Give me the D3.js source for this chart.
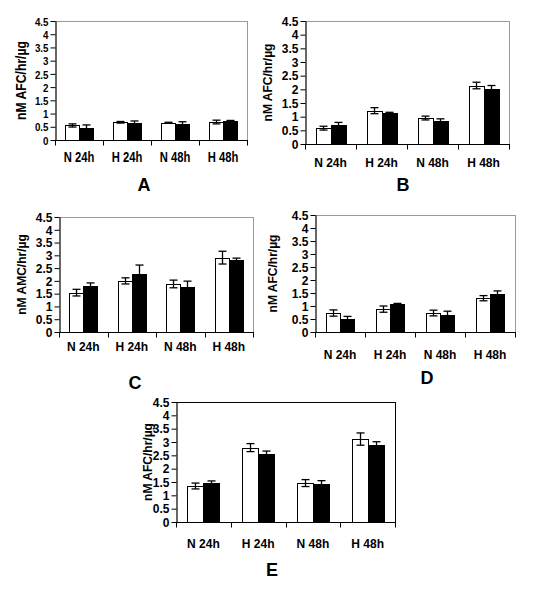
<!DOCTYPE html>
<html>
<head>
<meta charset="utf-8">
<script src="https://cdn.jsdelivr.net/npm/d3@7"></script>
<style>
  body { margin: 0; background: #fff; }
  svg { display: block; }
  text { font-family: "Liberation Sans", Arial, sans-serif; font-weight: bold; fill: #000; }
</style>
</head>
<body>
<svg id="chart" width="540" height="589"></svg>
<script>
// ---------- data ----------
const categories = ["N 24h", "H 24h", "N 48h", "H 48h"];
const yTicks = [0, 0.5, 1, 1.5, 2, 2.5, 3, 3.5, 4, 4.5];
const panelLetters = ["A", "B", "C", "D", "E"];
const yTitles = ["nM AFC/hr/µg", "nM AFC/hr/µg", "nM AMC/hr/µg", "nM AFC/hr/µg", "nM AFC/hr/µg"];

const whiteA = [0.55, 0.67, 0.65, 0.68];
const whiteErrA = [0.06, 0.03, 0.02, 0.07];
const blackA = [0.45, 0.64, 0.62, 0.72];
const blackErrA = [0.12, 0.08, 0.07, 0.02];

const whiteB = [0.58, 1.22, 0.95, 2.14];
const whiteErrB = [0.07, 0.11, 0.07, 0.12];
const blackB = [0.70, 1.14, 0.85, 2.02];
const blackErrB = [0.09, 0.02, 0.07, 0.12];

const whiteC = [1.54, 2.00, 1.88, 2.91];
const whiteErrC = [0.13, 0.12, 0.15, 0.25];
const blackC = [1.80, 2.27, 1.77, 2.83];
const blackErrC = [0.12, 0.35, 0.22, 0.06];

const whiteD = [0.73, 0.88, 0.73, 1.30];
const whiteErrD = [0.12, 0.12, 0.11, 0.10];
const blackD = [0.50, 1.07, 0.66, 1.46];
const blackErrD = [0.10, 0.03, 0.14, 0.12];

const whiteE = [1.35, 2.79, 1.46, 3.11];
const whiteErrE = [0.11, 0.15, 0.13, 0.23];
const blackE = [1.46, 2.56, 1.44, 2.90];
const blackErrE = [0.08, 0.10, 0.11, 0.11];

const whiteSeries = [whiteA, whiteB, whiteC, whiteD, whiteE];
const whiteErrs = [whiteErrA, whiteErrB, whiteErrC, whiteErrD, whiteErrE];
const blackSeries = [blackA, blackB, blackC, blackD, blackE];
const blackErrs = [blackErrA, blackErrB, blackErrC, blackErrD, blackErrE];

// ---------- layout ----------
const layouts = [
  { x0: 55,  x1: 247, yTop: 21,  y0: 140, titleX: 26,  catY: 162, letterX: 144, letterY: 191, frame: "#9a9a9a", narrow: true },
  { x0: 305, x1: 509, yTop: 21,  y0: 144, titleX: 272, catY: 167, letterX: 403, letterY: 191, frame: "#9a9a9a" },
  { x0: 59,  x1: 253, yTop: 217, y0: 332, titleX: 26,  catY: 351, letterX: 135, letterY: 389, frame: "#9a9a9a" },
  { x0: 315, x1: 515, yTop: 215, y0: 332, titleX: 277, catY: 359, letterX: 427, letterY: 384, frame: "#9a9a9a" },
  { x0: 176, x1: 395, yTop: 402, y0: 522, titleX: 152, catY: 548, letterX: 272, letterY: 576, frame: "#000" }
];

const svg = d3.select("#chart");

layouts.forEach((L, i) => {
  const g = svg.append("g");
  const sx = L.narrow ? 0.75 : 1;

  const x = d3.scaleBand().domain(categories).range([L.x0, L.x1]).paddingInner(0).paddingOuter(0);
  const y = d3.scaleLinear().domain([0, 4.5]).range([L.y0, L.yTop]);
  const bw = x.bandwidth() * 0.29;

  // frame top/right
  g.append("line").attr("x1", L.x0).attr("x2", L.x1).attr("y1", L.yTop + 0.5).attr("y2", L.yTop + 0.5)
    .attr("stroke", L.frame).attr("stroke-width", 1);
  g.append("line").attr("x1", L.x1 + 0.5).attr("x2", L.x1 + 0.5).attr("y1", L.yTop).attr("y2", L.y0)
    .attr("stroke", L.frame).attr("stroke-width", 1);

  // bars
  const cats = categories.map((c, j) => ({ c, w: whiteSeries[i][j], we: whiteErrs[i][j], b: blackSeries[i][j], be: blackErrs[i][j] }));
  const cx = d => x(d.c) + x.bandwidth() / 2;

  g.selectAll(".wbar").data(cats).join("rect")
    .attr("x", d => Math.round(cx(d) - bw) + 0.5)
    .attr("y", d => Math.round(y(d.w)) + 0.5)
    .attr("width", Math.round(bw))
    .attr("height", d => Math.round(y(0)) - Math.round(y(d.w)))
    .attr("fill", "#fff").attr("stroke", "#000").attr("stroke-width", 1);
  g.selectAll(".bbar").data(cats).join("rect")
    .attr("x", d => Math.round(cx(d)) + 0.5)
    .attr("y", d => Math.round(y(d.b)) + 0.5)
    .attr("width", Math.round(bw))
    .attr("height", d => Math.round(y(0)) - Math.round(y(d.b)))
    .attr("fill", "#000").attr("stroke", "#000").attr("stroke-width", 1);

  // error bars
  const cap = 4;
  function errBar(xc, v, e) {
    const top = y(v + e), bot = y(v - e);
    g.append("line").attr("x1", xc).attr("x2", xc).attr("y1", top).attr("y2", bot).attr("stroke", "#000").attr("stroke-width", 1.3);
    g.append("line").attr("x1", xc - cap).attr("x2", xc + cap).attr("y1", top).attr("y2", top).attr("stroke", "#000").attr("stroke-width", 1.3);
    g.append("line").attr("x1", xc - cap).attr("x2", xc + cap).attr("y1", bot).attr("y2", bot).attr("stroke", "#000").attr("stroke-width", 1.3);
  }
  cats.forEach(d => {
    errBar(Math.round(cx(d) - bw / 2) + 0.5, d.w, d.we);
    errBar(Math.round(cx(d) + bw / 2) + 0.5, d.b, d.be);
  });

  // y axis
  const yAxis = g.append("g").attr("transform", `translate(${L.x0 + 0.5},0)`)
    .call(d3.axisLeft(y).tickValues(yTicks).tickFormat(d3.format("")).tickSize(5).tickSizeOuter(0));
  yAxis.select(".domain").attr("stroke", "#000").attr("stroke-width", 1.2);
  yAxis.selectAll(".tick line").attr("stroke", "#000");
  yAxis.selectAll("text")
    .attr("font-size", L.narrow ? 11.5 : 12).attr("font-weight", "bold").attr("fill", "#000")
    .attr("x", null).attr("dy", "0.36em")
    .attr("transform", `translate(-7,0) scale(${L.narrow ? 0.85 : 1},1)`);

  // x axis
  const xAxis = g.append("g").attr("transform", `translate(0,${L.y0 + 0.5})`);
  xAxis.append("line").attr("x1", L.x0).attr("x2", L.x1 + 1).attr("y1", 0).attr("y2", 0).attr("stroke", "#000").attr("stroke-width", 1.2);
  const bounds = categories.map(c => x(c)).concat([L.x1]);
  xAxis.selectAll(".xt").data(bounds).join("line")
    .attr("x1", d => Math.round(d) + 0.5).attr("x2", d => Math.round(d) + 0.5)
    .attr("y1", 0).attr("y2", 5).attr("stroke", "#000");

  // category labels
  g.selectAll(".cl").data(categories).join("text")
    .attr("transform", d => `translate(${x(d) + x.bandwidth() / 2},${L.catY}) scale(${sx},1)`)
    .attr("text-anchor", "middle")
    .attr("font-size", L.narrow ? 15 : 12)
    .text(d => d);

  // y title
  g.append("text")
    .attr("transform", `translate(${L.titleX},${(L.yTop + L.y0) / 2}) rotate(-90) scale(${L.narrow ? 0.87 : 1},1)`)
    .attr("text-anchor", "middle")
    .attr("font-size", L.narrow ? 14 : 12)
    .text(yTitles[i]);

  // panel letter
  g.append("text")
    .attr("x", L.letterX)
    .attr("y", L.letterY)
    .attr("text-anchor", "middle")
    .attr("font-size", 18)
    .text(panelLetters[i]);
});
</script>
</body>
</html>
